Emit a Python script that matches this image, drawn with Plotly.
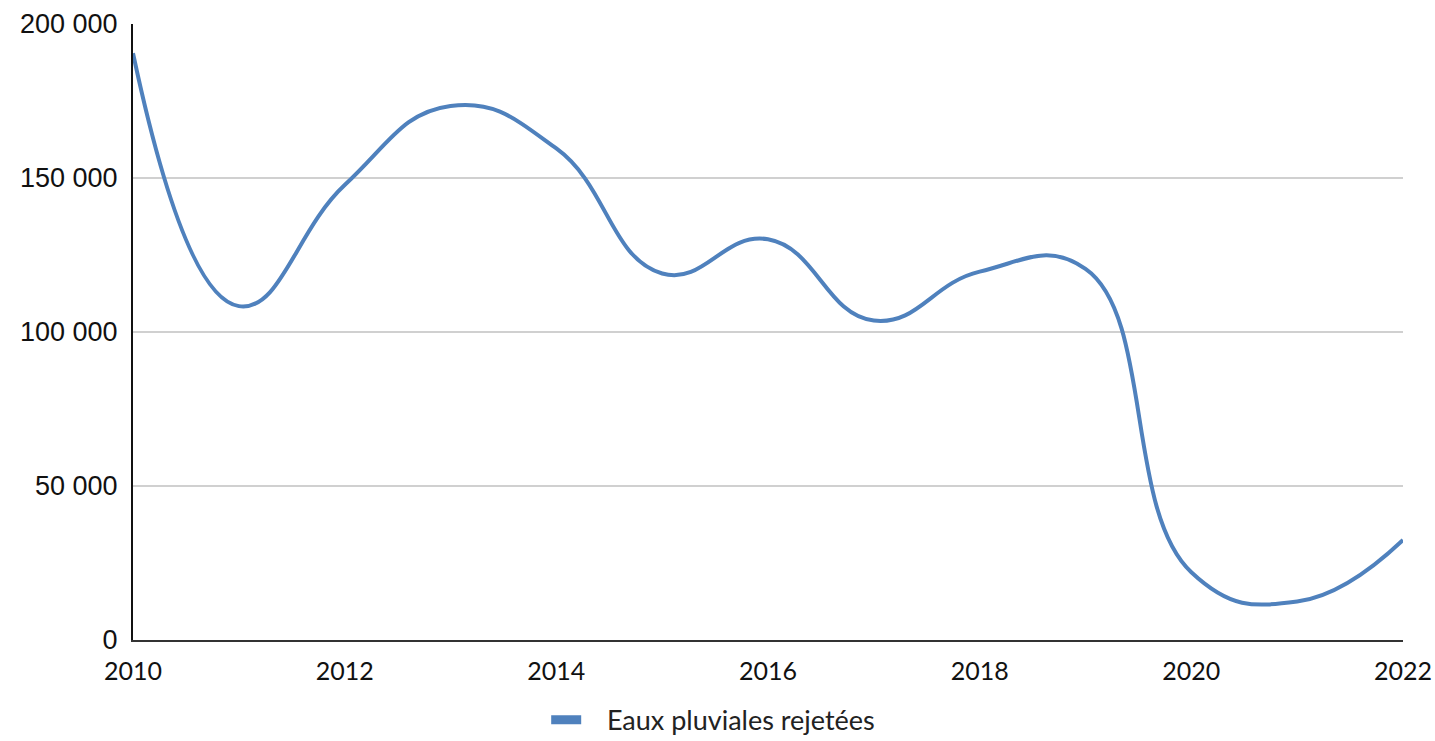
import plotly.graph_objects as go

years = list(range(2010, 2023))
values = [190500, 108400, 147700, 173400, 159600, 119000, 130100,
          103700, 119600, 120500, 22000, 12500, 32500]
series_name = "Eaux pluviales rejetées"
y_ticks = [0, 50000, 100000, 150000, 200000]
x_ticks = [2010, 2012, 2014, 2016, 2018, 2020, 2022]

color = "#4F81BD"
fig = go.Figure()
fig.add_trace(go.Scatter(
    x=years, y=values, name=series_name, mode="lines",
    line=dict(color=color, width=4, shape="spline", smoothing=1.3),
    showlegend=False,
))
# legend-only entry with a thick swatch
fig.add_trace(go.Scatter(
    x=[None], y=[None], name="\u00a0\u00a0\u00a0" + series_name, mode="lines",
    line=dict(color=color, width=9),
    showlegend=True,
))

fig.update_layout(
    width=1435, height=741,
    margin=dict(l=133, r=32, t=24, b=101, autoexpand=False),
    paper_bgcolor="white", plot_bgcolor="white",
    separators=", ",
    showlegend=True,
    legend=dict(
        orientation="h", xref="container", yref="container",
        x=0.497, xanchor="center", y=0.028, yanchor="middle",
        font=dict(family="Lato", size=27, color="#222222"),
        itemwidth=30,
    ),
)
fig.update_xaxes(
    range=[2010, 2022], tickvals=x_ticks, automargin=False,
    showgrid=False, zeroline=False,
    showline=True, linecolor="#333333", linewidth=2,
    ticks="", ticklabelstandoff=8,
    tickfont=dict(family="Lato", size=25, color="#111111"),
)
fig.update_yaxes(
    range=[0, 200000], tickvals=y_ticks, tickformat=",d", automargin=False,
    showgrid=True, gridcolor="#D0D0D0", gridwidth=1.5,
    zeroline=False,
    showline=True, linecolor="#111111", linewidth=2,
    ticks="", ticklabelstandoff=8,
    tickfont=dict(family="Liberation Sans", size=27, color="#111111"),
)

fig.write_html("out.html")
